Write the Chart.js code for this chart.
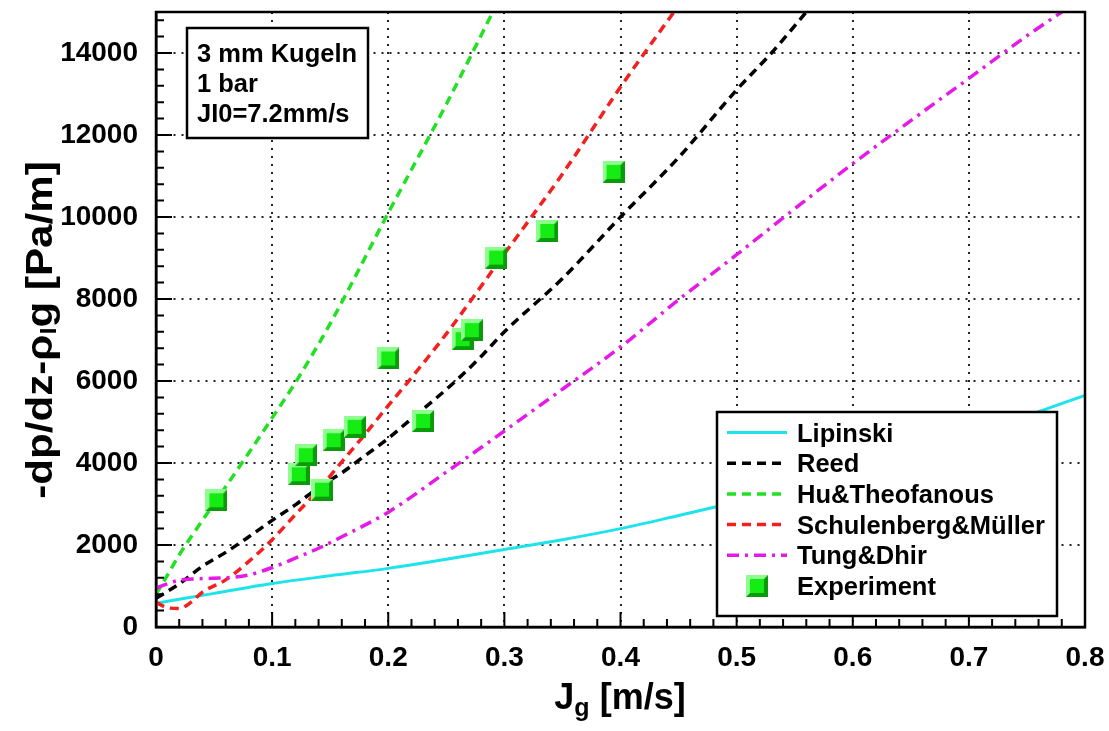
<!DOCTYPE html>
<html>
<head>
<meta charset="utf-8">
<script src="https://cdn.jsdelivr.net/npm/chart.js@4.4.1/dist/chart.umd.min.js"></script>
<style>
  html, body { margin: 0; padding: 0; background: #fff; overflow: hidden; }
  canvas { display: block; }
</style>
</head>
<body>
<canvas id="c" width="1109" height="731"></canvas>
<script>
// Axis ticks
const xTicks = [0, 0.1, 0.2, 0.3, 0.4, 0.5, 0.6, 0.7, 0.8];
const xTickLabels = ['0', '0.1', '0.2', '0.3', '0.4', '0.5', '0.6', '0.7', '0.8'];
const yTicks = [0, 2000, 4000, 6000, 8000, 10000, 12000, 14000];
const yTickLabels = ['0', '2000', '4000', '6000', '8000', '10000', '12000', '14000'];

// Model curves: gas superficial velocity Jg [m/s] vs pressure gradient [Pa/m]
const lipinskiX = [0, 0.05, 0.1, 0.15, 0.2, 0.25, 0.3, 0.35, 0.4, 0.45, 0.5, 0.55, 0.6, 0.65, 0.7, 0.75, 0.8];
const lipinskiY = [580, 820, 1060, 1250, 1430, 1650, 1890, 2130, 2400, 2720, 3050, 3400, 3780, 4190, 4640, 5150, 5650];

const reedX = [0, 0.02, 0.04, 0.06, 0.08, 0.1, 0.12, 0.14, 0.16, 0.18, 0.2, 0.22, 0.24, 0.26, 0.28, 0.3, 0.35, 0.4, 0.45, 0.5, 0.53, 0.56];
const reedY = [700, 1050, 1480, 1820, 2200, 2600, 2980, 3400, 3760, 4180, 4600, 5080, 5550, 6050, 6600, 7200, 8500, 10000, 11450, 13100, 14000, 15000];

const huX = [0, 0.01, 0.02, 0.04, 0.06, 0.08, 0.1, 0.12, 0.15, 0.2, 0.25, 0.29];
const huY = [800, 1270, 1760, 2600, 3420, 4250, 5100, 5960, 7400, 10100, 12750, 15000];

const schulenbergX = [0, 0.01, 0.02, 0.03, 0.04, 0.06, 0.08, 0.1, 0.12, 0.14, 0.16, 0.18, 0.2, 0.22, 0.25, 0.3, 0.35, 0.4, 0.446];
const schulenbergY = [600, 470, 450, 600, 850, 1150, 1600, 2130, 2740, 3350, 4030, 4700, 5400, 6080, 7150, 9100, 11050, 13170, 15000];

const tungX = [0, 0.02, 0.04, 0.06, 0.08, 0.1, 0.12, 0.14, 0.16, 0.2, 0.25, 0.3, 0.35, 0.4, 0.45, 0.5, 0.55, 0.6, 0.65, 0.7, 0.75, 0.78];
const tungY = [950, 1140, 1180, 1200, 1270, 1450, 1680, 1920, 2200, 2800, 3780, 4780, 5800, 6830, 7980, 9080, 10200, 11300, 12350, 13380, 14420, 15000];

// Measurements
const expX = [0.052, 0.123, 0.129, 0.143, 0.153, 0.171, 0.200, 0.230, 0.264, 0.272, 0.293, 0.337, 0.394];
const expY = [3090, 3725, 4190, 3350, 4555, 4880, 6550, 5025, 7020, 7240, 9010, 9660, 11100];

// Info box text
const infoLines = ['3 mm Kugeln', '1 bar', 'JI0=7.2mm/s'];

const pts = (xs, ys) => xs.map((x, i) => ({ x, y: ys[i] }));

const BOLD = '"Liberation Sans", Arial, sans-serif';

// Bevelled square marker
function makeMarker(s) {
  const c = document.createElement('canvas');
  c.width = s; c.height = s;
  const g = c.getContext('2d');
  const b = Math.round(s * 0.16);
  g.fillStyle = '#0a9a0a';
  g.fillRect(0, 0, s, s);
  g.fillStyle = '#8dff8d';
  g.beginPath();
  g.moveTo(0, 0); g.lineTo(s, 0); g.lineTo(s - b, b); g.lineTo(b, b); g.lineTo(b, s - b); g.lineTo(0, s);
  g.closePath(); g.fill();
  g.fillStyle = '#14ec14';
  g.fillRect(b, b, s - 2 * b, s - 2 * b);
  return c;
}
const marker = makeMarker(22);

function lineSet(label, xs, ys, color, dash, width, order) {
  return {
    label, data: pts(xs, ys), showLine: true, borderColor: color, backgroundColor: color,
    borderWidth: width, borderDash: dash, pointRadius: 0, pointHoverRadius: 0,
    cubicInterpolationMode: 'monotone', order
  };
}

const datasets = [
  lineSet('Lipinski', lipinskiX, lipinskiY, '#1ee3ea', [], 3, 5),
  lineSet('Reed', reedX, reedY, '#000000', [9, 6], 3.5, 4),
  lineSet('Hu&Theofanous', huX, huY, '#22e022', [9, 6], 3.5, 3),
  lineSet('Schulenberg&Müller', schulenbergX, schulenbergY, '#f42020', [9, 6], 3.5, 2),
  lineSet('Tung&Dhir', tungX, tungY, '#e61ae6', [12, 6, 3, 6], 3.5, 1),
  {
    label: 'Experiment', data: pts(expX, expY), showLine: false,
    pointStyle: marker, pointRadius: 11, pointHoverRadius: 11, order: 0
  }
];

// Inward ticks, frame, info box and legend inside the plot
const decor = {
  id: 'decor',
  afterDatasetsDraw(chart) {
    const { ctx, chartArea: a, scales: { x, y } } = chart;
    ctx.save();
    ctx.strokeStyle = '#000';
    ctx.lineWidth = 2;
    ctx.setLineDash([]);
    ctx.beginPath();
    for (let i = 0; i <= 40; i++) {
      const px = x.getPixelForValue(i * 0.02);
      const len = i % 5 === 0 ? 15 : 8;
      ctx.moveTo(px, a.bottom); ctx.lineTo(px, a.bottom - len);
    }
    for (let i = 0; i <= 37; i++) {
      const py = y.getPixelForValue(i * 400);
      if (py < a.top) break;
      const len = i % 5 === 0 ? 16 : 8;
      ctx.moveTo(a.left, py); ctx.lineTo(a.left + len, py);
    }
    ctx.stroke();

    ctx.lineWidth = 2.5;
    ctx.strokeRect(a.left, a.top, a.right - a.left, a.bottom - a.top);

    // info box
    ctx.fillStyle = '#fff';
    ctx.fillRect(187, 28, 181, 110);
    ctx.strokeRect(187, 28, 181, 110);
    ctx.fillStyle = '#000';
    ctx.font = 'bold 25.5px ' + BOLD;
    ctx.textBaseline = 'alphabetic';
    ctx.textAlign = 'left';
    infoLines.forEach((t, i) => ctx.fillText(t, 197, 62 + i * 30));

    // legend
    const L = 717, T = 412, R = 1057, B = 616;
    ctx.fillStyle = '#fff';
    ctx.fillRect(L, T, R - L, B - T);
    ctx.strokeRect(L, T, R - L, B - T);
    ctx.font = 'bold 25.5px ' + BOLD;
    chart.data.datasets.forEach((ds, i) => {
      const cy = 432.5 + i * 30.7;
      if (ds.showLine) {
        ctx.save();
        ctx.strokeStyle = ds.borderColor;
        ctx.lineWidth = ds.borderWidth;
        ctx.setLineDash(ds.borderDash);
        ctx.beginPath(); ctx.moveTo(727, cy); ctx.lineTo(787, cy); ctx.stroke();
        ctx.restore();
      } else {
        ctx.drawImage(ds.pointStyle, 757 - 11, cy - 11);
      }
      ctx.fillStyle = '#000';
      ctx.fillText(ds.label, 797, cy + 9);
    });
    ctx.restore();
  },
  afterDraw(chart) {
    const { ctx } = chart;
    ctx.save();
    ctx.fillStyle = '#000';
    ctx.textBaseline = 'alphabetic';

    // x title: J with subscript g
    ctx.save();
    ctx.translate(620, 709);
    const big = 'bold 36px ' + BOLD, small = 'bold 25px ' + BOLD;
    ctx.font = big; const wJ = ctx.measureText('J').width; const wR = ctx.measureText(' [m/s]').width;
    ctx.font = small; const wg = ctx.measureText('g').width;
    let x0 = -(wJ + wg + wR) / 2;
    ctx.font = big; ctx.fillText('J', x0, 0);
    ctx.font = small; ctx.fillText('g', x0 + wJ, 7);
    ctx.font = big; ctx.fillText(' [m/s]', x0 + wJ + wg, 0);
    ctx.restore();

    // y title, rotated, with subscript l on rho
    ctx.translate(52, 330);
    ctx.rotate(-Math.PI / 2);
    ctx.scale(1.17, 1);
    const yb = 'bold 36px ' + BOLD, ys = 'bold 22px ' + BOLD;
    const p1 = '-dp/dz-\u03c1', p2 = 'l', p3 = 'g [Pa/m]';
    ctx.font = yb; const w1 = ctx.measureText(p1).width, w3 = ctx.measureText(p3).width;
    ctx.font = ys; const w2 = ctx.measureText(p2).width;
    let s = -(w1 + w2 + w3) / 2;
    ctx.font = yb; ctx.fillText(p1, s, 0);
    ctx.font = ys; ctx.fillText(p2, s + w1, 4);
    ctx.font = yb; ctx.fillText(p3, s + w1 + w2, 0);
    ctx.restore();
  }
};

new Chart(document.getElementById('c'), {
  type: 'scatter',
  data: { datasets },
  plugins: [decor],
  options: {
    responsive: false,
    animation: false,
    devicePixelRatio: 1,
    layout: { padding: { top: 11, right: 24, left: 0, bottom: 0 } },
    plugins: { legend: { display: false }, tooltip: { enabled: false } },
    scales: {
      x: {
        type: 'linear', min: 0, max: 0.8,
        afterBuildTicks: s => { s.ticks = xTicks.map(v => ({ value: v })); },
        afterFit: s => { s.height = 104; s.paddingLeft = 0; s.paddingRight = 0; },
        grid: { color: '#222', lineWidth: 2, drawTicks: false },
        border: { display: true, color: '#000', width: 2.5, dash: [2, 6] },
        ticks: {
          autoSkip: false, maxRotation: 0, padding: 14, color: '#000',
          font: { family: BOLD, size: 28, weight: 'bold' },
          callback: (v, i) => xTickLabels[i]
        }
      },
      y: {
        type: 'linear', min: 0, max: 15000,
        afterBuildTicks: s => { s.ticks = yTicks.map(v => ({ value: v })); },
        afterFit: s => { s.width = 156; s.paddingTop = 0; s.paddingBottom = 0; },
        grid: { color: '#222', lineWidth: 2, drawTicks: false },
        border: { display: true, color: '#000', width: 2.5, dash: [2, 6] },
        ticks: {
          autoSkip: false, padding: 18, color: '#000',
          font: { family: BOLD, size: 28, weight: 'bold' },
          callback: (v, i) => yTickLabels[i]
        }
      }
    }
  }
});
</script>
</body>
</html>
